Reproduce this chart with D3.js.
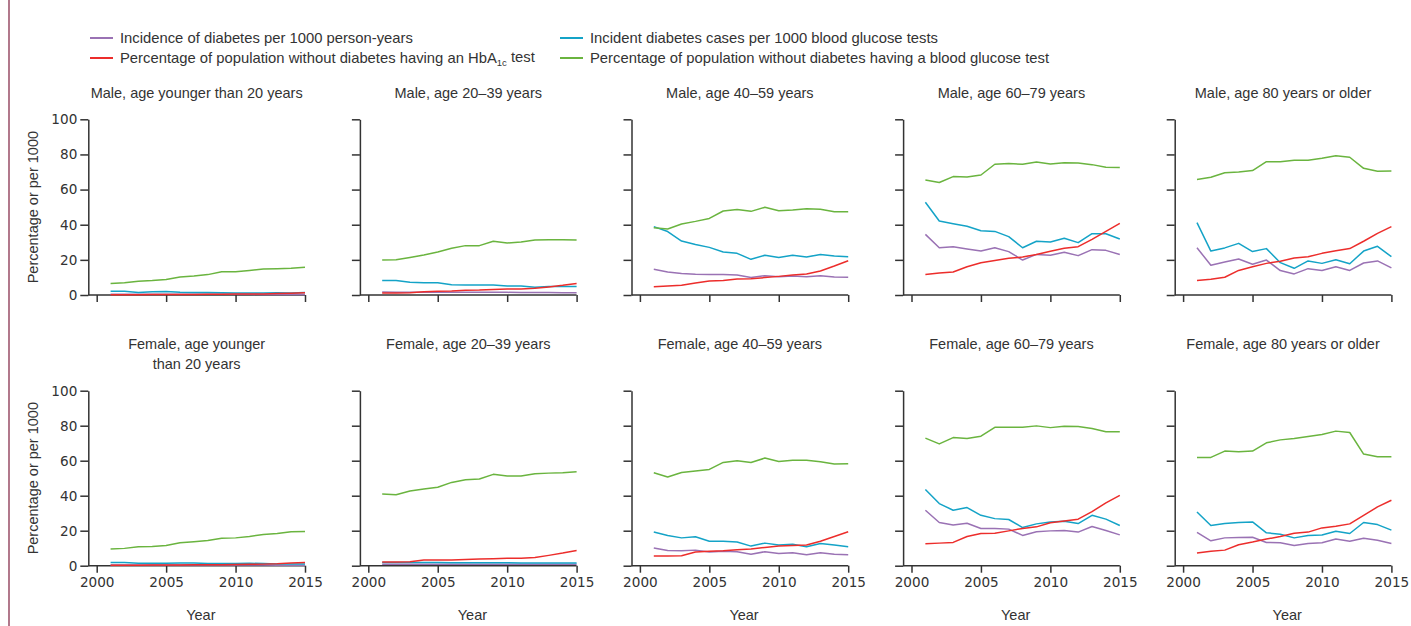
<!DOCTYPE html>
<html>
<head>
<meta charset="utf-8">
<script src="https://cdn.jsdelivr.net/npm/d3@7/dist/d3.min.js"></script>
<style>
  body { margin: 0; background: #fff; }
  text { font-family: "Liberation Sans", Arial, sans-serif; fill: #333; }
  .tick text { font-family: "DejaVu Sans", Verdana, sans-serif; }
</style>
</head>
<body>
<svg id="chart" width="1411" height="626"></svg>
<script>
// Calendar years shown on each panel
const years = [2001, 2002, 2003, 2004, 2005, 2006, 2007, 2008, 2009, 2010, 2011, 2012, 2013, 2014, 2015];

// Panel titles, row by row (male then female), youngest to oldest
const panelTitles = [
  ["Male, age younger than 20 years"],
  ["Male, age 20–39 years"],
  ["Male, age 40–59 years"],
  ["Male, age 60–79 years"],
  ["Male, age 80 years or older"],
  ["Female, age younger", "than 20 years"],
  ["Female, age 20–39 years"],
  ["Female, age 40–59 years"],
  ["Female, age 60–79 years"],
  ["Female, age 80 years or older"]
];

const yTicks = [0, 20, 40, 60, 80, 100];
const xTicks = [2000, 2005, 2010, 2015];

// Incidence of diabetes per 1000 person-years (one row per panel)
const incidencePer1000PY = [
  [0.4, 0.4, 0.4, 0.4, 0.4, 0.4, 0.4, 0.4, 0.4, 0.4, 0.4, 0.3, 0.3, 0.3, 0.3],
  [1.7, 1.6, 1.6, 1.6, 1.6, 1.6, 1.5, 1.5, 1.5, 1.5, 1.4, 1.4, 1.4, 1.3, 1.3],
  [14.6, 13.1, 12.3, 11.8, 11.6, 11.6, 11.4, 9.9, 11.0, 10.4, 10.8, 10.4, 11.0, 10.2, 10.1],
  [34.5, 26.9, 27.5, 26.2, 25.0, 26.9, 24.7, 19.9, 23.1, 22.6, 24.3, 22.4, 25.8, 25.4, 23.1],
  [26.9, 16.9, 18.8, 20.5, 17.5, 19.9, 13.9, 12.0, 15.0, 14.0, 16.1, 14.0, 18.2, 19.4, 15.4],
  [0.4, 0.4, 0.4, 0.4, 0.4, 0.4, 0.4, 0.4, 0.4, 0.4, 0.4, 0.4, 0.3, 0.3, 0.3],
  [0.9, 0.9, 0.9, 0.9, 0.9, 0.9, 0.9, 0.9, 0.9, 0.9, 0.9, 0.9, 0.8, 0.8, 0.8],
  [10.1, 8.7, 8.5, 8.9, 7.8, 8.2, 8.0, 6.5, 8.0, 7.0, 7.4, 6.3, 7.4, 6.6, 6.3],
  [31.7, 24.7, 23.3, 24.3, 21.3, 21.3, 20.9, 17.3, 19.4, 19.9, 20.1, 19.2, 22.4, 20.1, 17.6],
  [19.0, 14.2, 15.9, 16.1, 16.3, 13.3, 13.1, 11.6, 12.7, 13.1, 15.2, 14.0, 15.7, 14.6, 12.7]
];

// Incident diabetes cases per 1000 blood glucose tests
const casesPer1000Tests = [
  [2.2, 2.2, 1.4, 1.8, 2.0, 1.6, 1.4, 1.4, 1.3, 1.2, 1.2, 1.1, 1.3, 1.2, 1.4],
  [8.3, 8.2, 7.2, 7.0, 7.0, 5.9, 5.7, 5.7, 5.7, 5.1, 5.1, 4.4, 4.9, 4.9, 4.9],
  [38.9, 36.1, 30.7, 28.7, 27.1, 24.5, 23.7, 20.3, 22.6, 21.4, 22.6, 21.6, 23.1, 22.2, 21.8],
  [52.8, 42.1, 40.6, 39.1, 36.6, 36.2, 33.2, 26.9, 30.6, 30.2, 32.3, 29.8, 34.9, 34.9, 31.9],
  [41.2, 25.0, 26.8, 29.4, 24.7, 26.4, 18.4, 15.2, 19.4, 18.0, 20.1, 17.8, 25.0, 27.7, 21.8],
  [1.8, 1.8, 1.4, 1.4, 1.4, 1.5, 1.5, 1.2, 1.2, 1.2, 1.4, 1.2, 1.0, 1.0, 1.0],
  [1.9, 1.9, 1.8, 1.8, 1.8, 1.7, 1.7, 1.7, 1.7, 1.7, 1.6, 1.6, 1.6, 1.6, 1.6],
  [19.2, 17.3, 15.9, 16.5, 14.0, 14.0, 13.5, 11.2, 12.9, 11.8, 12.3, 10.8, 12.7, 11.8, 10.8],
  [43.6, 35.5, 31.7, 33.2, 28.8, 26.9, 26.4, 21.8, 23.9, 25.0, 25.4, 24.1, 28.8, 26.6, 23.0],
  [30.7, 23.0, 24.1, 24.7, 25.0, 18.8, 18.0, 15.9, 17.3, 17.5, 19.7, 18.4, 24.7, 23.5, 20.3]
];

// Percentage of population without diabetes having an HbA1c test
const hba1cTestPct = [
  [0.2, 0.2, 0.2, 0.3, 0.3, 0.3, 0.3, 0.4, 0.4, 0.5, 0.5, 0.6, 0.8, 1.0, 1.3],
  [1.1, 1.1, 1.3, 1.9, 2.1, 2.3, 2.7, 2.8, 3.2, 3.4, 3.4, 3.8, 4.6, 5.5, 6.6],
  [4.7, 5.1, 5.5, 6.8, 8.0, 8.3, 9.1, 9.3, 9.9, 10.6, 11.4, 12.0, 13.7, 16.5, 19.5],
  [11.6, 12.5, 13.1, 16.1, 18.4, 19.7, 20.9, 21.6, 23.1, 24.9, 26.6, 27.5, 31.7, 36.2, 40.8],
  [8.3, 8.9, 10.1, 14.0, 16.1, 18.0, 19.2, 21.1, 21.8, 23.7, 25.2, 26.4, 30.6, 35.1, 38.9],
  [0.3, 0.3, 0.3, 0.4, 0.4, 0.4, 0.5, 0.6, 0.6, 0.7, 0.8, 0.9, 1.1, 1.5, 1.8],
  [2.1, 2.1, 2.3, 3.2, 3.2, 3.2, 3.6, 3.8, 4.0, 4.2, 4.2, 4.7, 5.9, 7.2, 8.7],
  [5.5, 5.5, 5.7, 7.8, 8.2, 8.5, 9.1, 9.5, 10.4, 11.2, 11.6, 11.8, 14.0, 16.7, 19.4],
  [12.5, 12.9, 13.3, 16.7, 18.4, 18.6, 19.9, 21.3, 22.2, 24.5, 25.6, 26.6, 30.9, 35.9, 40.2],
  [7.2, 8.2, 8.9, 12.0, 13.5, 15.2, 16.7, 18.6, 19.2, 21.6, 22.6, 23.9, 28.7, 33.6, 37.4]
];

// Percentage of population without diabetes having a blood glucose test
const glucoseTestPct = [
  [6.6, 7.0, 7.8, 8.2, 8.8, 10.2, 10.8, 11.6, 13.2, 13.2, 14.0, 14.8, 15.0, 15.2, 15.8],
  [19.9, 20.0, 21.4, 22.8, 24.5, 26.6, 28.1, 28.1, 30.6, 29.6, 30.2, 31.3, 31.5, 31.5, 31.3],
  [38.3, 37.6, 40.4, 41.9, 43.6, 47.8, 48.6, 47.6, 49.9, 48.0, 48.4, 49.1, 48.8, 47.4, 47.4],
  [65.5, 64.0, 67.4, 67.2, 68.3, 74.4, 74.8, 74.4, 75.7, 74.6, 75.3, 75.1, 74.2, 72.7, 72.5],
  [65.8, 67.0, 69.6, 70.0, 70.8, 75.9, 75.9, 76.7, 76.7, 77.8, 79.3, 78.4, 72.1, 70.4, 70.6],
  [9.5, 9.9, 10.8, 11.0, 11.6, 13.1, 13.7, 14.4, 15.7, 15.9, 16.7, 17.8, 18.4, 19.4, 19.5],
  [41.0, 40.6, 42.7, 43.8, 44.8, 47.6, 49.1, 49.5, 52.2, 51.2, 51.2, 52.6, 52.9, 53.1, 53.7],
  [53.1, 50.7, 53.3, 54.1, 55.0, 59.0, 60.0, 59.0, 61.5, 59.6, 60.3, 60.2, 59.4, 58.1, 58.3],
  [72.9, 69.6, 73.2, 72.7, 74.0, 79.1, 79.1, 79.1, 79.9, 78.9, 79.7, 79.5, 78.4, 76.5, 76.5],
  [61.9, 61.9, 65.5, 65.1, 65.5, 70.2, 71.9, 72.7, 73.8, 75.0, 76.9, 76.1, 63.8, 62.3, 62.3]
];

// Series drawn in every panel, in legend order
const series = [
  { name: "Incidence of diabetes per 1000 person-years", values: incidencePer1000PY, color: "#9a72b4" },
  { name: "Incident diabetes cases per 1000 blood glucose tests", values: casesPer1000Tests, color: "#14a3c7" },
  { name: "Percentage of population without diabetes having an HbA1c test", values: hba1cTestPct, color: "#ec2d2b" },
  { name: "Percentage of population without diabetes having a blood glucose test", values: glucoseTestPct, color: "#6ab43f" }
];

const svg = d3.select("#chart");

// Thin rule down the left edge of the figure
svg.append("line")
  .attr("x1", 9).attr("x2", 9).attr("y1", 0).attr("y2", 626)
  .attr("stroke", "#7e1f3e").attr("stroke-width", 1.2);

// Legend: two columns, two rows
const legendItems = [
  { s: series[0], x: 90, y: 38 },
  { s: series[1], x: 560, y: 38 },
  { s: series[2], x: 90, y: 58 },
  { s: series[3], x: 560, y: 58 }
];
const legend = svg.append("g").attr("class", "legend");
legendItems.forEach(({ s, x, y }) => {
  legend.append("line")
    .attr("x1", x).attr("x2", x + 23).attr("y1", y).attr("y2", y)
    .attr("stroke", s.color).attr("stroke-width", 2);
  const t = legend.append("text")
    .attr("x", x + 30).attr("y", y).attr("dy", "0.35em")
    .style("font-size", "14.8px");
  if (s.name.includes("HbA1c")) {
    t.append("tspan").text("Percentage of population without diabetes having an HbA");
    t.append("tspan").text("1c").attr("dy", "0.3em").style("font-size", "9.5px");
    t.append("tspan").text(" test").attr("dy", "-0.3em");
  } else {
    t.text(s.name);
  }
});

// Panel grid geometry
const colAxisX = c => 88.3 + c * 271.6;
const rowY = [
  { top: 119.3, bottom: 295, titleY: 93 },
  { top: 390.7, bottom: 565.7, titleY: 344 }
];

const line = d3.line().curve(d3.curveLinear);

panelTitles.forEach((title, i) => {
  const r = Math.floor(i / 5), c = i % 5;
  const ax = colAxisX(c);
  const { top, bottom, titleY } = rowY[r];

  const x = d3.scaleLinear().domain([2000, 2015]).range([ax + 8.4, ax + 216.7]);
  const y = d3.scaleLinear().domain([0, 100]).range([bottom, top]);

  const g = svg.append("g").attr("class", "panel");

  // Title (one or two lines), centred over the whole axis span
  const titleX = (ax + x(2015)) / 2;
  const tt = g.append("text")
    .attr("x", titleX)
    .attr("y", titleY)
    .attr("text-anchor", "middle")
    .style("font-size", "14.5px");
  title.forEach((ln, k) => {
    tt.append("tspan")
      .attr("x", titleX)
      .attr("dy", k === 0 ? "0.35em" : "1.35em")
      .text(ln);
  });

  // Y axis
  const yAxis = g.append("g")
    .attr("transform", `translate(${ax},0)`)
    .call(d3.axisLeft(y).tickValues(yTicks).tickSize(8).tickSizeOuter(0).tickPadding(3)
      .tickFormat(c === 0 ? d3.format("d") : () => ""));
  yAxis.selectAll("path.domain").attr("stroke", "#333").attr("stroke-width", 1.5);
  yAxis.selectAll(".tick line").attr("stroke", "#333").attr("stroke-width", 1.5);
  yAxis.selectAll(".tick text").style("font-size", "13.6px").attr("fill", "#333");

  // X axis (baseline runs from the y axis to the last year)
  const xAxis = g.append("g")
    .attr("transform", `translate(0,${bottom})`)
    .call(d3.axisBottom(x).tickValues(xTicks).tickSize(7).tickSizeOuter(0).tickPadding(5)
      .tickFormat(r === 1 ? d3.format("d") : () => ""));
  xAxis.select("path.domain").remove();
  xAxis.append("line")
    .attr("x1", ax).attr("x2", x(2015)).attr("y1", 0).attr("y2", 0)
    .attr("stroke", "#333").attr("stroke-width", 1.5);
  xAxis.selectAll(".tick line").attr("stroke", "#333").attr("stroke-width", 1.5);
  xAxis.selectAll(".tick text").style("font-size", "13.6px").attr("fill", "#333");

  if (c === 0) {
    g.append("text")
      .attr("transform", `translate(33,${(top + bottom) / 2}) rotate(-90)`)
      .attr("text-anchor", "middle").attr("dy", "0.35em")
      .style("font-size", "14.5px")
      .text("Percentage or per 1000");
  }
  if (r === 1) {
    g.append("text")
      .attr("x", (x.range()[0] + x.range()[1]) / 2)
      .attr("y", 615).attr("dy", "0.35em")
      .attr("text-anchor", "middle")
      .style("font-size", "14.5px")
      .text("Year");
  }

  // Data lines
  series.forEach(s => {
    const vals = s.values[i];
    g.append("path")
      .datum(years.map((yr, k) => [x(yr), y(vals[k])]))
      .attr("d", line)
      .attr("fill", "none")
      .attr("stroke", s.color)
      .attr("stroke-width", 1.5)
      .attr("stroke-linejoin", "round");
  });
});
</script>
</body>
</html>
